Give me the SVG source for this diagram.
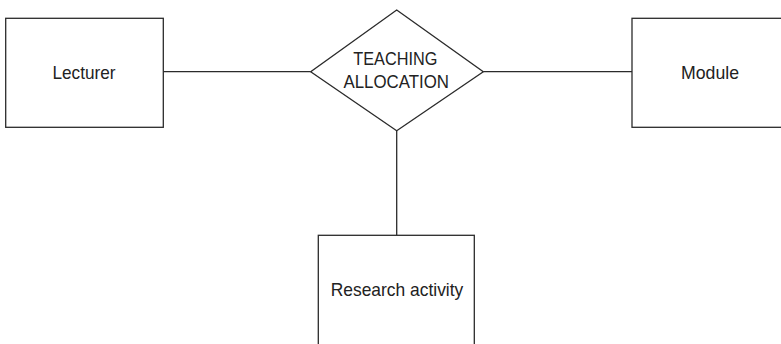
<svg xmlns="http://www.w3.org/2000/svg" width="781" height="344" viewBox="0 0 781 344">
  <style>
    .shape { fill: #ffffff; stroke: #2b2b2b; stroke-width: 1.3; }
    .link { stroke: #2b2b2b; stroke-width: 1.3; fill: none; }
    .label { font-family: "Liberation Sans", Arial, sans-serif; font-size: 19px; fill: #222222; text-anchor: middle; }
  </style>
  <rect width="781" height="344" fill="#ffffff"/>

  <g id="connectors">
    <line class="link" x1="163.3" y1="71.7" x2="310.7" y2="71.7"/>
    <line class="link" x1="483.3" y1="71.7" x2="632" y2="71.7"/>
    <line class="link" x1="396.7" y1="130.7" x2="396.7" y2="235.3"/>
  </g>

  <g id="lecturer">
    <rect class="shape" x="5.7" y="18.3" width="157.6" height="109"/>
    <text class="label" x="84" y="79" textLength="63" lengthAdjust="spacingAndGlyphs">Lecturer</text>
  </g>

  <g id="teaching-allocation">
    <polygon class="shape" points="396.7,10 483.3,71.7 396.7,130.7 310.7,71.7"/>
    <text class="label" x="395.3" y="64.5" textLength="84" lengthAdjust="spacingAndGlyphs">TEACHING</text>
    <text class="label" x="396.2" y="87.5" textLength="105.5" lengthAdjust="spacingAndGlyphs">ALLOCATION</text>
  </g>

  <g id="module">
    <rect class="shape" x="632" y="18.3" width="170" height="109"/>
    <text class="label" x="710" y="79" textLength="58" lengthAdjust="spacingAndGlyphs">Module</text>
  </g>

  <g id="research-activity">
    <rect class="shape" x="318.3" y="235.3" width="156" height="130"/>
    <text class="label" x="397" y="296" textLength="132.5" lengthAdjust="spacingAndGlyphs">Research activity</text>
  </g>
</svg>
